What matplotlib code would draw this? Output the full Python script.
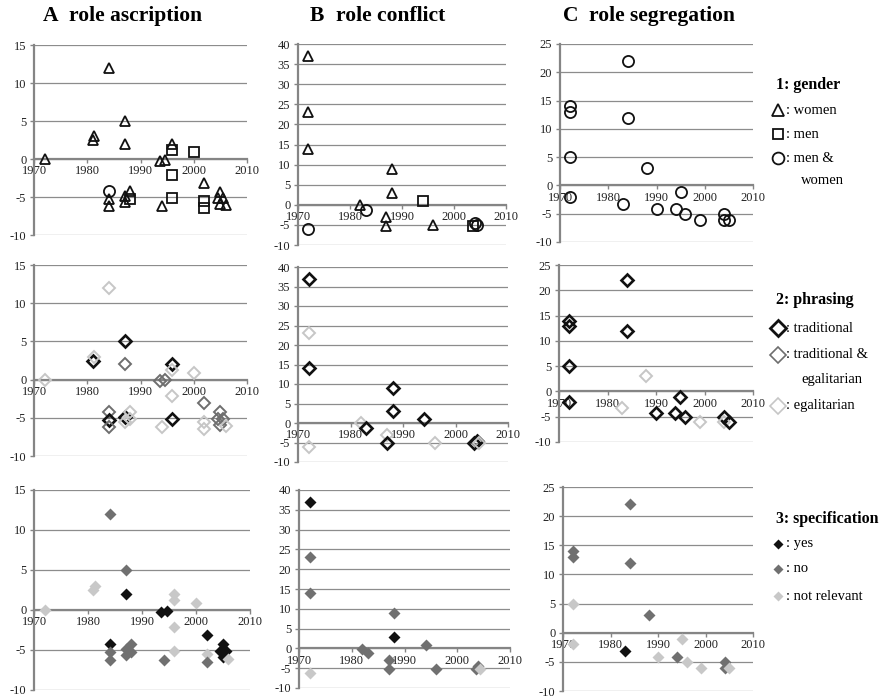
import matplotlib.pyplot as plt

plt.rcParams['font.family'] = ['Liberation Serif', 'DejaVu Serif']
plt.rcParams['axes.unicode_minus'] = False

# ---- data: A role ascription ----
a_year = [1972, 1984, 1981, 1981.3, 1987, 1987, 1984, 1984, 1984, 1987, 1987, 1988, 1988,
          1993.6, 1994.6, 1996, 1996, 1996, 1996, 1994, 2000, 2002, 2002, 2002,
          2004.5, 2005, 2005, 2005.5, 2006]
a_value = [0, 12, 2.5, 3, 5, 2, -4.2, -5.3, -6.2, -4.9, -5.6, -4.2, -5.2,
           -0.2, -0.1, 2, 1.2, -2.1, -5.1, -6.2, 0.9, -3.1, -5.5, -6.5,
           -5.1, -4.3, -5.9, -5.1, -6.1]
a_gender = ['w', 'w', 'w', 'w', 'w', 'w', 'b', 'w', 'w', 'w', 'w', 'w', 'm',
            'w', 'w', 'w', 'm', 'm', 'm', 'w', 'm', 'w', 'm', 'm',
            'w', 'w', 'w', 'w', 'w']
a_phrasing = ['E', 'E', 'T', 'E', 'T', 'B', 'B', 'T', 'B', 'T', 'E', 'E', 'E',
              'B', 'B', 'T', 'E', 'E', 'T', 'E', 'E', 'B', 'E', 'E',
              'B', 'B', 'B', 'B', 'E']
a_spec = ['R', 'N', 'R', 'R', 'N', 'Y', 'Y', 'N', 'N', 'N', 'N', 'N', 'N',
          'Y', 'Y', 'R', 'R', 'R', 'R', 'N', 'R', 'Y', 'R', 'N',
          'Y', 'Y', 'Y', 'Y', 'R']

# ---- data: B role conflict ----
b_year = [1972, 1972, 1972, 1972, 1982, 1983, 1987, 1987, 1988, 1988, 1994, 1996,
          2003.6, 2004.0, 2004.4]
b_value = [37, 23, 14, -6.1, -0.1, -1.2, -3, -5.2, 8.9, 3, 0.9, -5.1, -5.2, -4.5, -5.1]
b_gender = ['w', 'w', 'w', 'b', 'w', 'b', 'w', 'w', 'w', 'w', 'm', 'w', 'm', 'b', 'b']
b_phrasing = ['T', 'E', 'T', 'E', 'E', 'T', 'E', 'T', 'T', 'T', 'T', 'E', 'T', 'T', 'E']
b_spec = ['Y', 'N', 'N', 'R', 'N', 'N', 'N', 'N', 'N', 'Y', 'N', 'N', 'N', 'N', 'R']

# ---- data: C role segregation ----
c_year = [1972, 1972, 1972, 1972, 1984, 1984, 1983, 1988, 1990, 1994, 1995, 1996,
          1999, 2004, 2004, 2005]
c_value = [14, 13, 5, -2, 22, 12, -3.2, 3, -4.2, -4.2, -1.1, -5.1, -6.1, -5.1, -6.1, -6.1]
c_gender = ['b'] * 16
c_phrasing = ['T', 'T', 'T', 'T', 'T', 'T', 'E', 'E', 'T', 'T', 'T', 'T', 'E', 'T', 'E', 'T']
c_spec = ['N', 'N', 'R', 'R', 'N', 'N', 'Y', 'N', 'R', 'N', 'R', 'R', 'R', 'N', 'N', 'R']

panel_letters = ['A', 'B', 'C']
panel_titles = ['role ascription', 'role conflict', 'role segregation']
x_ticks = [1970, 1980, 1990, 2000, 2010]
y_ranges = [(-10, 15), (-10, 40), (-10, 25)]

# styles
gender_marker = {'w': '^', 'm': 's', 'b': 'o'}
gender_size = {'w': 7.5, 'm': 7.5, 'b': 8}
phr_color = {'T': '#111111', 'B': '#6e6e6e', 'E': '#c6c6c6'}
phr_lw = {'T': 1.9, 'B': 1.4, 'E': 1.4}
spec_color = {'Y': '#111111', 'N': '#707070', 'R': '#c8c8c8'}

W, H = 886, 698
fig = plt.figure(figsize=(W / 100, H / 100), dpi=100)


def px_axes(x0, y0, x1, y1):
    return fig.add_axes([x0 / W, 1 - y1 / H, (x1 - x0) / W, (y1 - y0) / H])


# axes boxes in pixels (left, top, right, bottom)
boxes = [
    [(34, 45, 247, 235), (298, 44, 506, 245), (560, 44, 753, 242)],
    [(34, 265, 247, 456), (298, 267, 508, 462), (559, 265, 753, 442)],
    [(34, 490, 250, 690), (299, 490, 510, 688), (563, 487, 753, 691)],
]
title_x = [43, 310, 563]

panels = [
    (a_year, a_value, a_gender, a_phrasing, a_spec),
    (b_year, b_value, b_gender, b_phrasing, b_spec),
    (c_year, c_value, c_gender, c_phrasing, c_spec),
]

grid_c = '#8c8c8c'
for row in range(3):
    for col in range(3):
        ax = px_axes(*boxes[row][col])
        yrs, vals, gen, phr, spc = panels[col]
        lo, hi = y_ranges[col]
        ax.set_xlim(1970, 2010)
        ax.set_ylim(lo, hi)
        ax.set_yticks(range(lo, hi + 1, 5))
        ax.set_xticks(x_ticks)
        for s in ['top', 'right']:
            ax.spines[s].set_visible(False)
        ax.spines['bottom'].set_position(('data', 0))
        for s in ['left', 'bottom']:
            ax.spines[s].set_color('#858585')
            ax.spines[s].set_linewidth(1.6)
        ax.yaxis.grid(True, color=grid_c, lw=0.9)
        ax.set_axisbelow(True)
        ax.tick_params(axis='both', labelsize=9, colors='#858585', labelcolor='#222222',
                       direction='out', length=3, width=1.0, pad=1.5)
        ax.tick_params(axis='y', pad=2.5)
        ax.patch.set_alpha(0)

        for x, y, g, p, s in zip(yrs, vals, gen, phr, spc):
            if row == 0:
                ax.plot(x, y, marker=gender_marker[g], ms=gender_size[g], mfc='none',
                        mec='#111111', mew=1.3, ls='none', clip_on=False, zorder=3)
            elif row == 1:
                ax.plot(x, y, marker='D', ms=6, mfc='none', mec=phr_color[p],
                        mew=phr_lw[p], ls='none', clip_on=False, zorder=3)
            else:
                ax.plot(x, y, marker='D', ms=6.5, mfc=spec_color[s], mec='none',
                        ls='none', clip_on=False, zorder=3)

        if row == 0:
            fig.text(title_x[col] / W, 1 - 16 / H, panel_letters[col], ha='left',
                     va='center', fontsize=15.5, fontweight='bold')
            fig.text((title_x[col] + 26) / W, 1 - 16 / H, panel_titles[col], ha='left',
                     va='center', fontsize=15.5, fontweight='bold')

# ---- legends on the right ----
lg = fig.add_axes([0, 0, 1, 1])
lg.set_xlim(0, W)
lg.set_ylim(H, 0)
lg.axis('off')
mx, tx = 778, 786
fs = 10.5


def head(y, s):
    lg.text(776, y, s, fontsize=11.5, fontweight='bold', va='center', ha='left')


def item(y, label, **kw):
    lg.plot(mx, y, ls='none', **kw)
    lg.text(tx, y, label, fontsize=fs, va='center', ha='left')


head(85, '1: gender')
item(110, ': women', marker='^', ms=8, mfc='none', mec='#111111', mew=1.3)
item(134, ': men', marker='s', ms=7.5, mfc='none', mec='#111111', mew=1.3)
item(158, ': men &', marker='o', ms=8.5, mfc='none', mec='#111111', mew=1.3)
lg.text(801, 181, 'women', fontsize=fs, va='center', ha='left')

head(300, '2: phrasing')
item(328, ': traditional', marker='D', ms=8.5, mfc='none', mec=phr_color['T'], mew=2.0)
item(355, ': traditional &', marker='D', ms=8.5, mfc='none', mec=phr_color['B'], mew=1.2)
lg.text(801, 380, 'egalitarian', fontsize=fs, va='center', ha='left')
item(406, ': egalitarian', marker='D', ms=8.5, mfc='none', mec=phr_color['E'], mew=1.2)

head(519, '3: specification')
item(544, ': yes', marker='D', ms=5.5, mfc=spec_color['Y'], mec='none')
item(569, ': no', marker='D', ms=5.5, mfc=spec_color['N'], mec='none')
item(596, ': not relevant', marker='D', ms=5.5, mfc=spec_color['R'], mec='none')

fig.savefig('out.png', dpi=100)
